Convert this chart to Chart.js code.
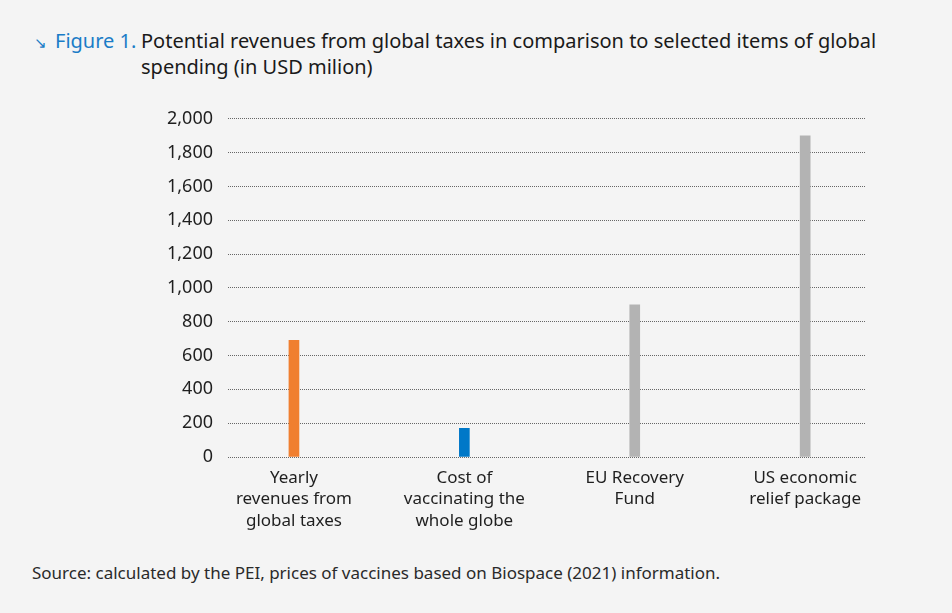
<!DOCTYPE html>
<html lang="en">
<head>
    <meta charset="UTF-8">
    <title>Figure 1</title>
    <script src="https://cdn.jsdelivr.net/npm/chart.js"></script>
    <style>
        body {
            margin: 0;
            background: #f4f4f4;
            font-family: "Noto Sans", Arial, sans-serif;
            width: 952px;
            height: 613px;
            position: relative;
            overflow: hidden;
        }

        .title {
            position: absolute;
            left: 34px;
            top: 28px;
            font-size: 20px;
            line-height: 26px;
            color: #1a1a1a;
            display: flex;
        }

        .title .fig {
            color: #1a7cc7;
            white-space: nowrap;
            width: 107px;
        }

        .title .arrow {
            font-size: 15px;
            margin-right: 8px;
        }

        .chart-box {
            position: absolute;
            left: 0;
            top: 93px;
            width: 952px;
            height: 447px;
        }

        .source {
            position: absolute;
            left: 32px;
            top: 561px;
            font-size: 17px;
            color: #2a2a2a;
        }
    </style>
</head>
<body>
    <div class="title">
        <div class="fig"><span class="arrow">&#8600;</span>Figure 1.</div>
        <div>Potential revenues from global taxes in comparison to selected items of global<br>spending (in USD milion)</div>
    </div>

    <div class="chart-box">
        <canvas id="chart"></canvas>
    </div>

    <div class="source">Source: calculated by the PEI, prices of vaccines based on Biospace (2021) information.</div>

    <script>
        const categories = [
            ['Yearly', 'revenues from', 'global taxes'],
            ['Cost of', 'vaccinating the', 'whole globe'],
            ['EU Recovery', 'Fund'],
            ['US economic', 'relief package']
        ];
        const values = [690, 170, 900, 1900];
        const barColors = ['#f07f30', '#0078c8', '#b3b3b3', '#b3b3b3'];
        const yTicks = [0, 200, 400, 600, 800, 1000, 1200, 1400, 1600, 1800, 2000];

        const points = values.map((v, i) => ({ x: i, y: v }));

        new Chart(document.getElementById('chart'), {
            type: 'bar',
            data: {
                datasets: [{
                    data: points,
                    backgroundColor: barColors,
                    barThickness: 10
                }]
            },
            options: {
                responsive: true,
                maintainAspectRatio: false,
                animation: false,
                layout: { padding: { top: 12, right: 86, bottom: 0, left: 0 } },
                plugins: {
                    legend: { display: false },
                    tooltip: { enabled: false }
                },
                scales: {
                    x: {
                        type: 'linear',
                        offset: false,
                        min: -0.387,
                        max: 3.357,
                        grid: { display: false, offset: false },
                        border: { display: false },
                        afterFit: scale => { scale.height = 83; },
                        afterBuildTicks: scale => { scale.ticks = categories.map((c, i) => ({ value: i })); },
                        ticks: {
                            autoSkip: false,
                            maxRotation: 0,
                            padding: 3,
                            color: '#1f1f1f',
                            font: { family: 'Noto Sans', size: 17, lineHeight: 1.24 },
                            callback: v => categories[v] || ''
                        }
                    },
                    y: {
                        min: yTicks[0],
                        max: yTicks[yTicks.length - 1],
                        afterFit: scale => { scale.width = 228; },
                        afterBuildTicks: scale => { scale.ticks = yTicks.map(v => ({ value: v })); },
                        grid: { color: '#666666', lineWidth: 1, drawTicks: false },
                        border: { display: false, dash: [1, 1] },
                        ticks: {
                            padding: 15,
                            color: '#1f1f1f',
                            font: { family: 'Noto Sans', size: 18 },
                            callback: v => v.toLocaleString('en-US')
                        }
                    }
                }
            }
        });
    </script>
</body>
</html>
